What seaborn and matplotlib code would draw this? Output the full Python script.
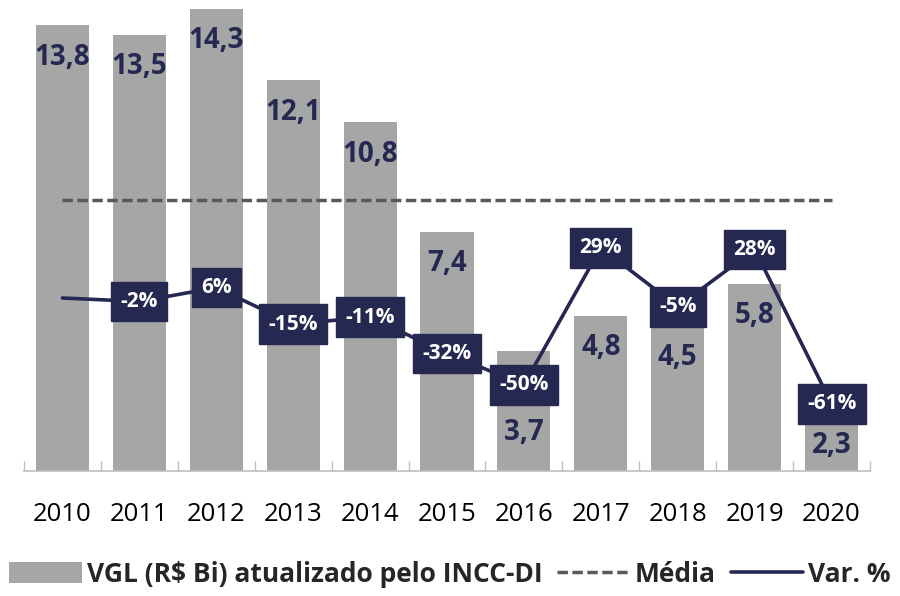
import matplotlib.pyplot as plt
import pandas as pd
import seaborn as sns
from matplotlib.patches import Patch
from matplotlib.lines import Line2D

# data
years = ['2010', '2011', '2012', '2013', '2014', '2015', '2016', '2017', '2018', '2019', '2020']
vgl = [13.8, 13.5, 14.3, 12.1, 10.8, 7.4, 3.7, 4.8, 4.5, 5.8, 2.3]
var_pct = [0, -2, 6, -15, -11, -32, -50, 29, -5, 28, -61]
media = 8.4

gray = '#A6A6A6'
navy = '#252850'
dash_gray = '#595959'

sns.set_theme(style='white')
plt.rcParams['font.family'] = ['Open Sans', 'DejaVu Sans']

df = pd.DataFrame({'ano': years, 'vgl': vgl, 'var': var_pct})
df['pos'] = range(len(df))
df['media'] = media

fig = plt.figure(figsize=(9, 5.96), dpi=100)
ax = fig.add_axes([0.0267, 0.2097, 0.9400, 0.7903])

sns.barplot(data=df, x='ano', y='vgl', color=gray, saturation=1, width=0.69,
            edgecolor='none', ax=ax)
sns.lineplot(data=df, x='pos', y='media', color=dash_gray, lw=2.5,
             linestyle=(0, (3, 1.3)), ax=ax)

ax.set_xlim(-0.5, len(years) - 0.5)
ax.set_ylim(0, 14.58)
ax.set_xlabel('')
ax.set_ylabel('')
ax.set_yticks([])
for s in ['left', 'right', 'top']:
    ax.spines[s].set_visible(False)
ax.spines['bottom'].set_color('#BFBFBF')
ax.spines['bottom'].set_linewidth(1.2)
ax.set_xticks(range(len(years)))
ax.set_xticklabels(years)
ax.set_xticks([i - 0.5 for i in range(len(years) + 1)], minor=True)
ax.tick_params(axis='x', which='major', length=0, pad=22, labelsize=18.5, colors='black')
ax.tick_params(axis='x', which='minor', direction='in', length=7, width=1, color='#BFBFBF', bottom=True)

# bar value labels (some pushed down where the % boxes sit on top)
label_drop = {'2016': 58, '2020': 35}
for i, row in df.iterrows():
    drop = label_drop.get(row['ano'], 23)
    ax.annotate(f"{row['vgl']:.1f}".replace('.', ','), (i, row['vgl']),
                xytext=(0, -drop), textcoords='offset points',
                ha='center', va='center', fontsize=20, fontweight='bold', color=navy)

ax2 = ax.twinx()
sns.lineplot(data=df, x='pos', y='var', color=navy, lw=2.6, ax=ax2)
ax2.set_ylim(-99.8, 171.9)
ax2.set_axis_off()
ax2.set_xlim(ax.get_xlim())

for i, row in df.iterrows():
    if i == 0:
        continue
    ax2.text(i, row['var'], f"{row['var']}%", ha='center', va='center',
             fontsize=15, fontweight='bold', color='white',
             bbox=dict(boxstyle='square,pad=0.45', fc=navy, ec=navy))

handles = [Patch(fc=gray, ec='none'),
           Line2D([], [], color=dash_gray, lw=2.5, linestyle=(0, (3, 1.3))),
           Line2D([], [], color=navy, lw=2.6)]
labels = ['VGL (R$ Bi) atualizado pelo INCC-DI', 'Média', 'Var. %']
fig.legend(handles, labels, loc='lower center', bbox_to_anchor=(0.5, 0.0), ncol=3,
           frameon=False, prop={'weight': 'bold', 'size': 19}, handlelength=2.75,
           handleheight=0.85, handletextpad=0.2, columnspacing=0.55,
           borderpad=0.15, borderaxespad=0.15)

fig.savefig('out.png', dpi=100)
